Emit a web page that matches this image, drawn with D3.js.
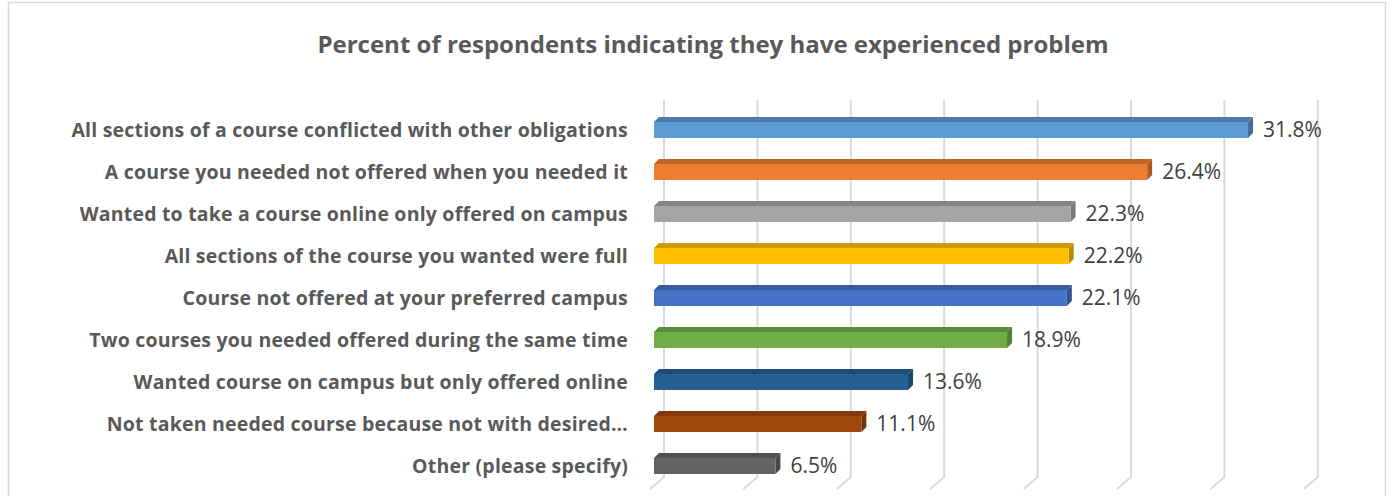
<!DOCTYPE html>
<html>
<head>
<meta charset="utf-8">
<script src="https://cdn.jsdelivr.net/npm/d3@7"></script>
<style>
  body { margin: 0; background: #fff; }
  svg text { font-family: "Open Sans", "Liberation Sans", sans-serif; }
</style>
</head>
<body>
<div id="chart"></div>
<script>
// categories top to bottom
var categories = [
    "All sections of a course conflicted with other obligations",
    "A course you needed not offered when you needed it",
    "Wanted to take a course online only offered on campus",
    "All sections of the course you wanted were full",
    "Course not offered at your preferred campus",
    "Two courses you needed offered during the same time",
    "Wanted course on campus but only offered online",
    "Not taken needed course because not with desired\u2026",
    "Other (please specify)"
];
var values = [31.8, 26.4, 22.3, 22.2, 22.1, 18.9, 13.6, 11.1, 6.5];
var colors = ["#5B9BD5", "#ED7D31", "#A5A5A5", "#FFC000", "#4472C4", "#70AD47", "#255E91", "#9E480E", "#636363"];
var ticks = [0, 5, 10, 15, 20, 25, 30, 35];

var W = 1392, H = 496;
var depth = 5;        // bar 3d offset
var wallDx = 10;      // back wall shift

var svg = d3.select("#chart").append("svg")
    .attr("width", W)
    .attr("height", H);

// chart frame
svg.append("rect")
    .attr("x", 8.5).attr("y", 2.5)
    .attr("width", 1377).attr("height", H + 10)
    .attr("fill", "#fff")
    .attr("stroke", "#d9d9d9")
    .attr("stroke-width", 1.5);

svg.append("text")
    .attr("x", 713).attr("y", 53)
    .attr("text-anchor", "middle")
    .attr("font-size", 24)
    .attr("font-weight", "bold")
    .attr("fill", "#595959")
    .text("Percent of respondents indicating they have experienced problem");

var x = d3.scaleLinear().domain([0, 35]).range([654, 654 + 35 * 18.68]);
var y = d3.scaleBand().domain(categories).range([109, 487])
    .paddingInner(0.62).paddingOuter(0.31);

// gridlines on back wall + floor
var grid = svg.append("g");
ticks.forEach(function(t){
    var gx = x(t) + wallDx;
    grid.append("path")
        .attr("d", "M" + gx + ",100 L" + gx + ",477 L" + (gx - 14) + ",489")
        .attr("fill", "none")
        .attr("stroke", "#d9d9d9")
        .attr("stroke-width", 2);
});

// bars
var bars = svg.append("g").selectAll("g")
    .data(values)
    .enter().append("g");

bars.each(function(v, i){
    var g = d3.select(this);
    var x0 = x(0), xe = x(v);
    var top = y(categories[i]), bot = top + y.bandwidth();
    var c = d3.color(colors[i]);
    // top face
    g.append("path")
        .attr("d", "M" + x0 + "," + top + " L" + (x0 + depth) + "," + (top - depth) +
                   " L" + (xe + depth) + "," + (top - depth) + " L" + xe + "," + top + "Z")
        .attr("fill", c.darker(0.6));
    // side face
    g.append("path")
        .attr("d", "M" + xe + "," + top + " L" + (xe + depth) + "," + (top - depth) +
                   " L" + (xe + depth) + "," + (bot - depth) + " L" + xe + "," + bot + "Z")
        .attr("fill", c.darker(0.9));
    // front face
    g.append("rect")
        .attr("x", x0).attr("y", top)
        .attr("width", xe - x0).attr("height", y.bandwidth())
        .attr("fill", colors[i]);
    // value label
    g.append("text")
        .attr("x", xe + 15)
        .attr("y", top + y.bandwidth() / 2)
        .attr("dy", "0.35em")
        .attr("font-size", 21)
        .attr("fill", "#404040")
        .text(v.toFixed(1) + "%");
});

// category labels
svg.append("g").selectAll("text")
    .data(categories)
    .enter().append("text")
    .attr("x", 628)
    .attr("y", function(d){ return y(d) + y.bandwidth() / 2; })
    .attr("dy", "0.35em")
    .attr("text-anchor", "end")
    .attr("font-size", 19.5)
    .attr("letter-spacing", 0.2)
    .attr("font-weight", "bold")
    .attr("fill", "#595959")
    .text(function(d){ return d; });
</script>
</body>
</html>
